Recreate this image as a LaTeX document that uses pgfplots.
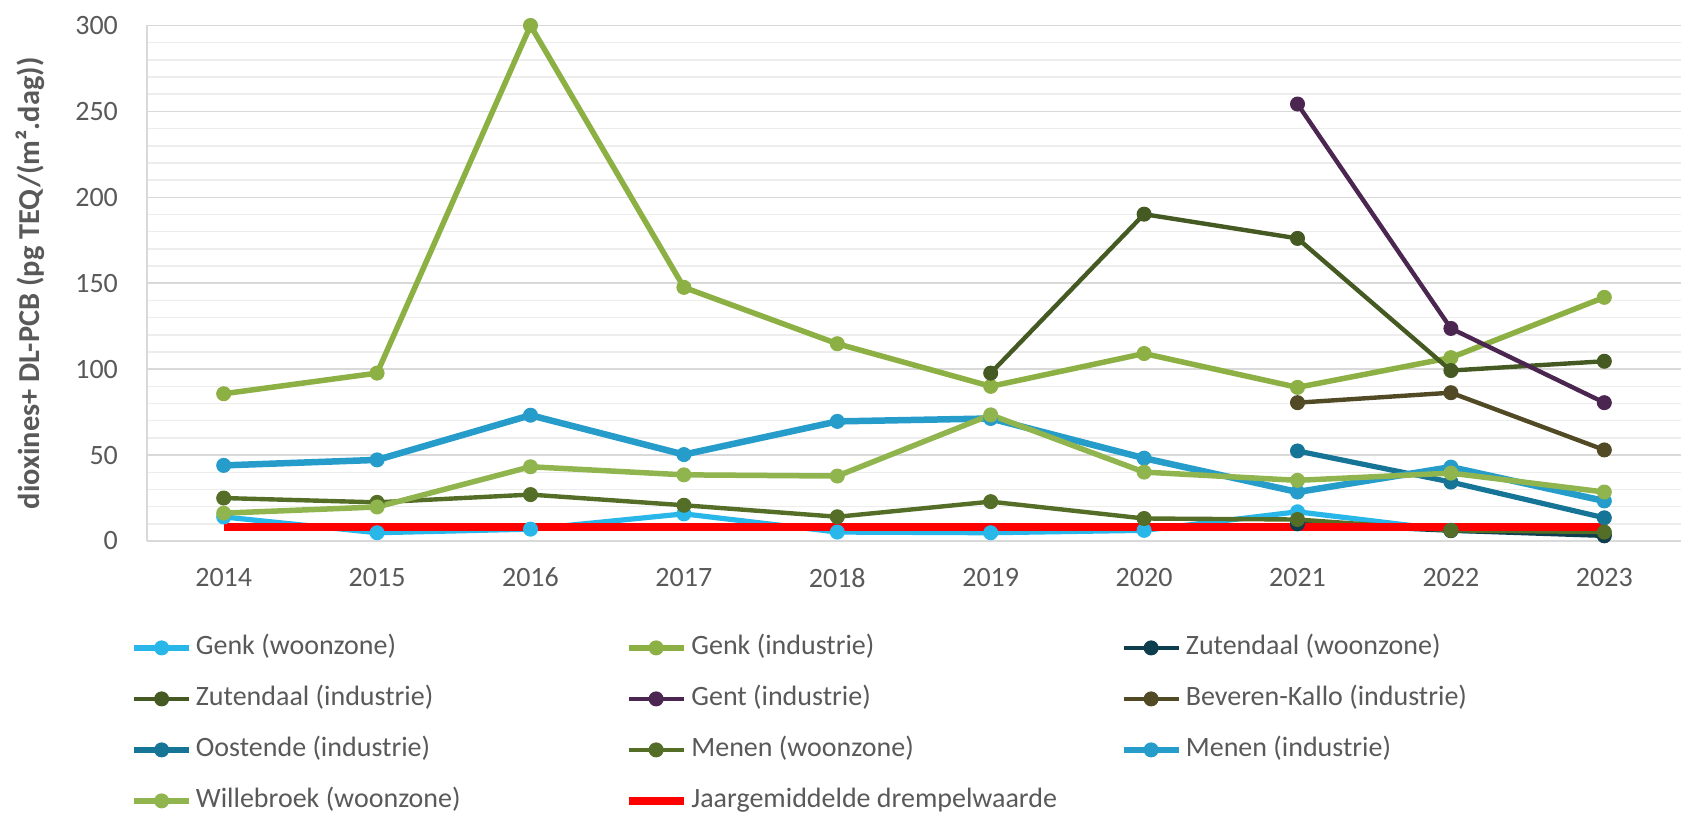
\documentclass[border=0pt]{standalone}
\usepackage{pgfplots}
\pgfplotsset{compat=1.18}
\usepackage{fontspec}
\setmainfont{Carlito}
\definecolor{txt}{HTML}{595959}
\definecolor{gridmaj}{HTML}{D9D9D9}
\definecolor{gridmin}{HTML}{EDEDED}
\definecolor{genkw}{HTML}{29B6E8}
\definecolor{genki}{HTML}{8CB043}
\definecolor{zutw}{HTML}{0E3D4E}
\definecolor{zuti}{HTML}{445A22}
\definecolor{gent}{HTML}{4B2650}
\definecolor{bev}{HTML}{514A25}
\definecolor{oost}{HTML}{167496}
\definecolor{menw}{HTML}{546E27}
\definecolor{meni}{HTML}{259CC9}
\definecolor{wil}{HTML}{91B54E}
\definecolor{thr}{HTML}{FF0000}
\begin{document}
\begin{tikzpicture}
\path[use as bounding box] (-73.5pt,-144pt) rectangle (767pt,270.5pt);
\begin{axis}[
 at={(0pt,0pt)}, anchor=south west,
 scale only axis, width=767pt, height=257.75pt,
 xmin=2013.5, xmax=2023.5, ymin=0, ymax=300,
 xtick={2014,2015,...,2023},
 ytick={0,50,...,300},
 minor y tick num=4,
 ymajorgrids, yminorgrids,
 major grid style={draw=gridmaj, line width=0.75pt},
 minor grid style={draw=gridmin, line width=0.75pt},
 axis x line*=bottom, axis y line*=left,
 axis line style={draw=gridmaj, line width=0.75pt, -},
 major tick length=0pt, minor tick length=0pt,
 tick label style={font=\fontsize{14}{17}\selectfont, text=txt},
 /pgf/number format/assume math mode=true,
 /pgf/number format/1000 sep={},
 yticklabel style={xshift=-11pt},
 xticklabel style={yshift=-10pt},
 ylabel={dioxines+ DL-PCB (pg TEQ/(m².dag))},
 ylabel style={at={(axis description cs:-0.0763,0.5)}, anchor=center, font=\bfseries\fontsize{15.2}{17}\selectfont, text=txt},
 clip=false,
 legend columns=3,
 legend cell align=left,
 legend style={at={(axis description cs:0,0)}, anchor=north west, xshift=-8pt, yshift=-46.5pt,
   draw=none, fill=none, inner sep=0pt, font=\fontsize{14}{17}\selectfont, text=txt,
   row sep=12pt, nodes={inner sep=0pt, text height=10pt, text depth=3.5pt},
   /tikz/every odd column/.append style={column sep=2pt}},
 legend image code/.code={\draw[mark repeat=2,mark phase=2,#1] plot coordinates {(0pt,0pt)(13.75pt,0pt)(27.5pt,0pt)};},
 every axis plot/.append style={mark=*, mark size=3.5pt, mark options={solid, line width=0.5pt}},
]
\addplot[genkw, line width=2.6pt] coordinates {(2014,14)(2015,4.8)(2016,6.9)(2017,15.8)(2018,5.2)(2019,4.8)(2020,6.2)(2021,17)(2022,6.2)(2023,4.2)};
\addlegendentry{\makebox[214.5pt][l]{Genk (woonzone)}}
\addplot[genki, line width=2.75pt] coordinates {(2014,85.7)(2015,97.7)(2016,300)(2017,147.6)(2018,114.8)(2019,90)(2020,109.1)(2021,89.4)(2022,106.7)(2023,141.8)};
\addlegendentry{\makebox[214.5pt][l]{Genk (industrie)}}
\addplot[zutw, line width=2.2pt] coordinates {(2021,10)(2022,6)(2023,3)};
\addlegendentry{\makebox[214.5pt][l]{Zutendaal (woonzone)}}
\addplot[zuti, line width=2.2pt] coordinates {(2019,97.7)(2020,190.2)(2021,176.1)(2022,99.2)(2023,104.6)};
\addlegendentry{\makebox[214.5pt][l]{Zutendaal (industrie)}}
\addplot[gent, line width=2.2pt] coordinates {(2021,254.3)(2022,123.7)(2023,80.5)};
\addlegendentry{\makebox[214.5pt][l]{Gent (industrie)}}
\addplot[bev, line width=2.2pt] coordinates {(2021,80.5)(2022,86.3)(2023,53)};
\addlegendentry{\makebox[214.5pt][l]{Beveren-Kallo (industrie)}}
\addplot[oost, line width=2.6pt] coordinates {(2021,52.4)(2022,34.3)(2023,13.5)};
\addlegendentry{\makebox[214.5pt][l]{Oostende (industrie)}}
\addplot[menw, line width=2.2pt] coordinates {(2014,25)(2015,22.5)(2016,27)(2017,20.8)(2018,14.1)(2019,22.9)(2020,13.1)(2021,12.5)(2022,6.2)(2023,5.2)};
\addlegendentry{\makebox[214.5pt][l]{Menen (woonzone)}}
\addplot[meni, line width=3.25pt] coordinates {(2014,44)(2015,47.2)(2016,73.2)(2017,50.3)(2018,69.6)(2019,71.3)(2020,48.2)(2021,28.5)(2022,43)(2023,23.3)};
\addlegendentry{\makebox[214.5pt][l]{Menen (industrie)}}
\addplot[wil, line width=2.75pt] coordinates {(2014,16.2)(2015,19.8)(2016,43.2)(2017,38.5)(2018,37.8)(2019,73.4)(2020,40.1)(2021,35.3)(2022,39.5)(2023,28.5)};
\addlegendentry{\makebox[214.5pt][l]{Willebroek (woonzone)}}
\addplot[thr, line width=3.75pt, mark=none] coordinates {(2014,8.2)(2023,8.2)};
\addlegendentry{\makebox[214.5pt][l]{Jaargemiddelde drempelwaarde}}
\end{axis}
\end{tikzpicture}
\end{document}
